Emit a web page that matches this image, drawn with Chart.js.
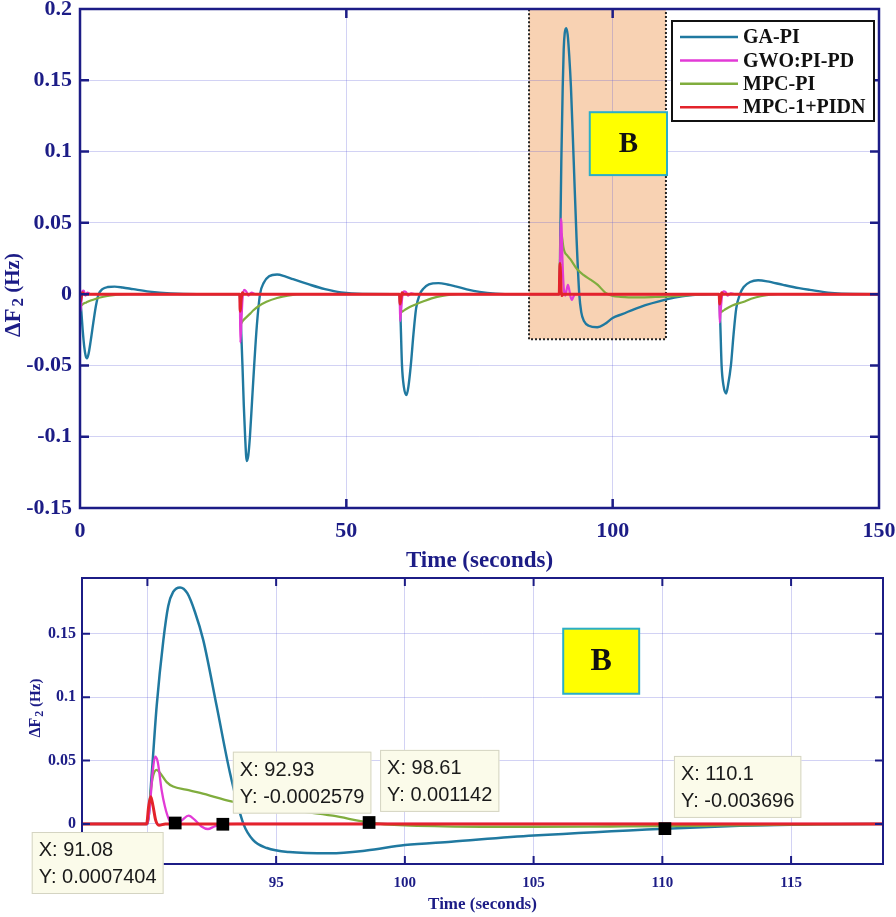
<!DOCTYPE html>
<html><head><meta charset="utf-8">
<script src="https://cdn.jsdelivr.net/npm/chart.js@4.4.0/dist/chart.umd.min.js"></script>
<style>
html,body{margin:0;padding:0;background:#fff;}
#wrap{position:relative;width:896px;height:917px;overflow:hidden;background:#fff;}
#c1{position:absolute;left:0;top:0;width:896px;height:576px;}
#c2{position:absolute;left:0;top:566px;width:896px;height:351px;}
</style></head><body>
<div id="wrap">
<canvas id="c1" width="896" height="576"></canvas>
<canvas id="c2" width="896" height="351"></canvas>
</div>
<script>
// ---------------- DATA ----------------
const seriesNames = ['GA-PI', 'GWO:PI-PD', 'MPC-PI', 'MPC-1+PIDN'];

const gaT = [0,0.25,0.5,0.8,1.05,1.3,1.6,2.0,2.5,3.0,3.5,4.2,5.2,6.5,8,10,13,17,22,
  30,30.25,30.5,30.75,31.0,31.3,31.6,31.9,32.3,32.7,33.2,33.8,34.5,35.5,37,38.5,40,43,46,49,53,
  60,60.2,60.45,60.8,61.3,61.65,62.1,62.6,63.1,63.8,64.5,65.5,67.3,69,70.5,72.6,75,78,82,
  90,90.17,90.36,90.62,90.81,91.0,91.27,91.55,91.85,92.17,92.69,93.21,93.73,94.1,94.64,95.5,97.1,98.5,100,101.8,105,110.1,113,116,119,
  120,120.2,120.45,120.8,121.3,121.65,122.2,122.7,123.2,123.9,124.6,125.8,127.3,129,132,135,137,141,145,150];
const gaV = [0,-0.012,-0.025,-0.037,-0.043,-0.045,-0.042,-0.033,-0.02,-0.008,0,0.0035,0.005,0.0053,0.0047,0.0035,0.0018,0.0005,0,
  0,-0.025,-0.05,-0.078,-0.1,-0.117,-0.113,-0.1,-0.075,-0.05,-0.022,0,0.008,0.0125,0.0138,0.0125,0.0105,0.0068,0.0035,0.0012,0.0002,
  0,-0.02,-0.05,-0.065,-0.0708,-0.065,-0.05,-0.028,-0.01,0,0.004,0.0068,0.0077,0.0068,0.0055,0.0034,0.0016,0.0004,0,
  0,0.04,0.093,0.145,0.172,0.183,0.1866,0.182,0.167,0.145,0.093,0.04,0,-0.0126,-0.019,-0.0222,-0.0232,-0.021,-0.0167,-0.014,-0.0092,-0.0037,-0.0015,-0.0003,0,
  0,-0.02,-0.05,-0.064,-0.0697,-0.064,-0.05,-0.028,-0.01,0,0.005,0.0085,0.0097,0.009,0.0065,0.0042,0.003,0.0009,0.0001,0];

const gwoT = [0,0.1,0.25,0.45,0.7,1.0,1.4,2.0,
  30,30.1,30.3,30.5,30.8,31.2,31.6,32.2,33,
  60,60.1,60.3,60.5,60.8,61.2,61.6,62.2,63,
  90,90.1,90.2,90.3,90.4,90.55,90.68,90.85,91.1,91.35,91.6,91.85,92.1,92.35,92.6,92.93,93.5,
  120,120.1,120.3,120.5,120.8,121.2,121.6,122.2,123,150];
const gwoV = [0,-0.012,-0.006,0.002,0.0025,-0.001,0.001,0,
  0,-0.034,-0.02,-0.004,0.003,0.002,-0.001,0.001,0,
  0,-0.019,-0.011,-0.002,0.002,0.0015,-0.001,0.0005,0,
  0,0.015,0.04,0.053,0.049,0.027,0.0137,0.003,-0.001,0.003,0.0065,0.003,-0.002,-0.004,-0.002,-0.0003,0,
  0,-0.02,-0.011,-0.002,0.002,0.0015,-0.001,0.0005,0,0];

const mpcT = [0,0.15,0.6,1.2,2,3,4.2,5.5,7,9,
  30,30.15,30.5,31,32,32.5,33.5,35,37,39,42,
  60,60.15,60.5,61,62,63,64.5,66,68,71,
  90,90.1,90.2,90.36,90.5,90.75,91.0,91.5,92.05,93.3,94.5,96,97.2,98.61,100,101.5,103,105,108,110.1,112.5,115,118,
  120,120.15,120.5,121,122,123,124.5,126,128,131,150];
const mpcV = [0,-0.008,-0.0068,-0.0058,-0.0045,-0.0032,-0.002,-0.001,-0.0003,0,
  0,-0.021,-0.019,-0.017,-0.0135,-0.0115,-0.0085,-0.0054,-0.0027,-0.001,0,
  0,-0.013,-0.0122,-0.011,-0.0088,-0.0072,-0.005,-0.003,-0.0012,0,
  0,0.02,0.036,0.0427,0.04,0.033,0.0295,0.027,0.0245,0.0176,0.0135,0.0098,0.0065,0.00114,-0.0012,-0.0019,-0.0022,-0.0022,-0.002,-0.0018,-0.0012,-0.0006,0,
  0,-0.013,-0.0122,-0.011,-0.0088,-0.0072,-0.0055,-0.0032,-0.0013,0,0];

const pidnT = [0,0.08,0.25,0.45,0.8,
  30,30.08,30.25,30.45,30.8,
  60,60.08,60.25,60.45,60.8,
  89.97,90.05,90.13,90.22,90.32,90.45,90.7,
  120,120.08,120.25,120.45,120.8,150];
const pidnV = [0,-0.005,-0.002,0.001,0,
  0,-0.012,-0.004,0.001,0,
  0,-0.007,-0.003,0.001,0,
  0,0.014,0.0215,0.014,0.003,-0.001,0,
  0,-0.007,-0.003,0.001,0,0];

const topXTicks = [0, 50, 100, 150];
const topYTicks = [-0.15, -0.1, -0.05, 0, 0.05, 0.1, 0.15, 0.2];
const zoomXTicks = [90, 95, 100, 105, 110, 115];
const zoomYTicks = [0, 0.05, 0.1, 0.15];

const tipX = [91.08, 92.93, 98.61, 110.1];
const tipY = [0.0007404, -0.0002579, 0.001142, -0.003696];

const zoomRegionX = [84.3, 110];
const zoomRegionY = [-0.0316, 0.2];
const boxLabel = 'B';

// ---------------- STYLE ----------------
const NAVY = '#1c1c86';
const GRID = 'rgba(95,95,215,0.28)';
const SERIF = '"Liberation Serif", "Times New Roman", serif';
const SANS = '"Liberation Sans", Arial, sans-serif';
const COLORS = ['#2079a0', '#e23ad6', '#80ad3e', '#e3232b'];
const ORDERS = [3, 1, 2, 0];
const tipOffsets = [[-143.5, 9], [10, -72.6], [11, -72.6], [9, -72.7]];

const seriesT = [gaT, gwoT, mpcT, pidnT];
const seriesV = [gaV, gwoV, mpcV, pidnV];

function makeDatasets(widths) {
  return seriesNames.map((name, k) => ({
    label: name,
    data: seriesT[k].map((t, i) => ({x: t, y: seriesV[k][i]})),
    borderColor: COLORS[k],
    backgroundColor: COLORS[k],
    borderWidth: widths[k],
    pointRadius: 0,
    fill: false,
    cubicInterpolationMode: 'monotone',
    order: ORDERS[k]
  }));
}

function noPad(s) { s.paddingTop = 0; s.paddingBottom = 0; s.paddingLeft = 0; s.paddingRight = 0; }

function xScale(min, max, ticks, fs, pad, ts, tpb, h) {
  return {
    type: 'linear', min, max,
    afterBuildTicks: s => { s.ticks = ticks.map(v => ({value: v})); },
    afterFit: s => { s.height = h; noPad(s); },
    grid: {color: GRID, lineWidth: 1, drawTicks: false},
    border: {display: false},
    ticks: {color: NAVY, font: {family: SERIF, size: fs, weight: 'bold'}, padding: pad,
      maxRotation: 0, autoSkip: false, callback: v => String(v)},
    title: {display: true, text: 'Time (seconds)', color: NAVY,
      font: {family: SERIF, size: ts, weight: 'bold', lineHeight: 1.2},
      padding: {top: 0, bottom: tpb}}
  };
}
function yScale(min, max, ticks, fs, pad, w) {
  return {
    type: 'linear', min, max,
    afterBuildTicks: s => { s.ticks = ticks.map(v => ({value: v})); },
    afterFit: s => { s.width = w; noPad(s); },
    grid: {color: GRID, lineWidth: 1, drawTicks: false},
    border: {display: false},
    ticks: {color: NAVY, font: {family: SERIF, size: fs, weight: 'bold'}, padding: pad,
      autoSkip: false, callback: v => String(v)}
  };
}

function drawYTitle(ctx, cx, cy, s) {
  ctx.save();
  ctx.translate(cx, cy);
  ctx.rotate(-Math.PI / 2);
  ctx.fillStyle = NAVY;
  ctx.textBaseline = 'middle';
  ctx.textAlign = 'left';
  const f1 = 'bold ' + s.main + 'px ' + SERIF;
  const f2 = 'bold ' + s.sub + 'px ' + SERIF;
  const f3 = 'bold ' + s.hz + 'px ' + SERIF;
  ctx.font = f1; const w1 = ctx.measureText('\u0394F').width;
  ctx.font = f2; const w2 = ctx.measureText('2').width;
  ctx.font = f3; const w3 = ctx.measureText(' (Hz)').width;
  let x = -(w1 + s.gap + w2 + w3) / 2;
  ctx.font = f1; ctx.fillText('\u0394F', x, 0); x += w1 + s.gap;
  ctx.font = f2; ctx.fillText('2', x, s.drop); x += w2;
  ctx.font = f3; ctx.fillText(' (Hz)', x, 0);
  ctx.restore();
}

function drawFrame(chart, lw, tl) {
  const {ctx, chartArea: a, scales} = chart;
  ctx.save();
  ctx.strokeStyle = NAVY;
  ctx.lineWidth = lw;
  ctx.beginPath();
  scales.x.ticks.forEach(t => {
    const px = scales.x.getPixelForValue(t.value);
    if (px <= a.left + 1 || px >= a.right - 1) return;
    ctx.moveTo(px, a.bottom); ctx.lineTo(px, a.bottom - tl);
    ctx.moveTo(px, a.top); ctx.lineTo(px, a.top + tl);
  });
  scales.y.ticks.forEach(t => {
    const py = scales.y.getPixelForValue(t.value);
    if (py <= a.top + 1 || py >= a.bottom - 1) return;
    ctx.moveTo(a.left, py); ctx.lineTo(a.left + tl, py);
    ctx.moveTo(a.right, py); ctx.lineTo(a.right - tl, py);
  });
  ctx.stroke();
  ctx.strokeRect(a.left, a.top, a.right - a.left, a.bottom - a.top);
  ctx.restore();
}

function drawBBox(chart, xr, yr, fs) {
  const {ctx, scales} = chart;
  const x1 = scales.x.getPixelForValue(xr[0]), x2 = scales.x.getPixelForValue(xr[1]);
  const y1 = scales.y.getPixelForValue(yr[1]), y2 = scales.y.getPixelForValue(yr[0]);
  ctx.save();
  ctx.fillStyle = '#ffff00';
  ctx.fillRect(x1, y1, x2 - x1, y2 - y1);
  ctx.strokeStyle = '#2aaec8';
  ctx.lineWidth = 2;
  ctx.strokeRect(x1, y1, x2 - x1, y2 - y1);
  ctx.fillStyle = '#111';
  ctx.font = 'bold ' + fs + 'px ' + SERIF;
  ctx.textAlign = 'center';
  ctx.textBaseline = 'middle';
  ctx.fillText(boxLabel, (x1 + x2) / 2, (y1 + y2) / 2 + 1);
  ctx.restore();
}

// ---------------- TOP CHART ----------------
const topDeco = {
  id: 'topDeco',
  beforeDraw(chart) {
    const {ctx, chartArea: a, scales} = chart;
    ctx.save();
    ctx.fillStyle = '#ffffff';
    ctx.fillRect(a.left, a.top, a.right - a.left, a.bottom - a.top);
    const x1 = scales.x.getPixelForValue(zoomRegionX[0]), x2 = scales.x.getPixelForValue(zoomRegionX[1]);
    const y1 = scales.y.getPixelForValue(zoomRegionY[1]), y2 = scales.y.getPixelForValue(zoomRegionY[0]);
    ctx.fillStyle = '#f8d2b3';
    ctx.fillRect(x1, y1, x2 - x1, y2 - y1);
    ctx.restore();
  },
  beforeDatasetsDraw(chart) {
    const {ctx, scales} = chart;
    const x1 = scales.x.getPixelForValue(zoomRegionX[0]), x2 = scales.x.getPixelForValue(zoomRegionX[1]);
    const y1 = scales.y.getPixelForValue(zoomRegionY[1]), y2 = scales.y.getPixelForValue(zoomRegionY[0]);
    ctx.save();
    ctx.strokeStyle = '#222';
    ctx.lineWidth = 2;
    ctx.setLineDash([2, 2]);
    ctx.strokeRect(x1, y1, x2 - x1, y2 - y1);
    ctx.restore();
  },
  afterDraw(chart) {
    const {ctx, chartArea: a} = chart;
    drawFrame(chart, 2.5, 9);
    // legend
    const L = a.right - 5 - 202, T = a.top + 12;
    ctx.save();
    ctx.fillStyle = '#fff';
    ctx.fillRect(L, T, 202, 100);
    ctx.strokeStyle = '#111';
    ctx.lineWidth = 2;
    ctx.strokeRect(L, T, 202, 100);
    ctx.font = 'bold 20px ' + SERIF;
    ctx.textBaseline = 'middle';
    ctx.textAlign = 'left';
    seriesNames.forEach((n, k) => {
      const y = T + 16 + k * 23.4;
      ctx.strokeStyle = COLORS[k];
      ctx.lineWidth = 2.5;
      ctx.beginPath(); ctx.moveTo(L + 8, y); ctx.lineTo(L + 66, y); ctx.stroke();
      ctx.fillStyle = '#111';
      ctx.fillText(n, L + 71, y + 1);
    });
    ctx.restore();
    drawBBox(chart, [95.7, 110.2], [0.0835, 0.1276], 29);
    drawYTitle(ctx, 14, 295, {main: 23, sub: 17, hz: 21, gap: 2, drop: 5});
  }
};

new Chart(document.getElementById('c1'), {
  type: 'line',
  data: {datasets: makeDatasets([2.4, 2.2, 2.2, 3])},
  options: {
    responsive: false, animation: false, devicePixelRatio: 1,
    layout: {padding: {top: 9, right: 17, left: 0, bottom: 0}},
    plugins: {legend: {display: false}, tooltip: {enabled: false}},
    scales: {
      x: xScale(0, 150, topXTicks, 22, 10, 23, 1, 68),
      y: yScale(-0.15, 0.2, topYTicks, 22, 8, 80)
    }
  },
  plugins: [topDeco]
});

// ---------------- BOTTOM (ZOOM) CHART ----------------
const botDeco = {
  id: 'botDeco',
  beforeDraw(chart) {
    const {ctx, chartArea: a} = chart;
    ctx.save();
    ctx.fillStyle = '#ffffff';
    ctx.fillRect(a.left, a.top, a.right - a.left, a.bottom - a.top);
    ctx.restore();
  },
  afterDraw(chart) {
    const {ctx, scales} = chart;
    drawFrame(chart, 2, 8);
    drawBBox(chart, [106.15, 109.1], [0.1027, 0.154], 32);
    drawYTitle(ctx, 36, 142, {main: 16, sub: 12, hz: 15, gap: 1, drop: 4});
    // data tips
    ctx.save();
    ctx.font = '20px ' + SANS;
    ctx.textBaseline = 'middle';
    ctx.textAlign = 'left';
    tipX.forEach((xv, i) => {
      const px = scales.x.getPixelForValue(xv), py = scales.y.getPixelForValue(tipY[i]);
      const l1 = 'X: ' + xv, l2 = 'Y: ' + tipY[i];
      const w = Math.max(ctx.measureText(l1).width, ctx.measureText(l2).width) + 14;
      const bx = px + tipOffsets[i][0], by = py + tipOffsets[i][1];
      ctx.fillStyle = '#fbfbea';
      ctx.fillRect(bx, by, w, 62);
      ctx.strokeStyle = '#d4d4c2';
      ctx.lineWidth = 1;
      ctx.strokeRect(bx + 0.5, by + 0.5, w - 1, 61);
      ctx.fillStyle = '#1a1a1a';
      ctx.fillText(l1, bx + 7, by + 18.5);
      ctx.fillText(l2, bx + 7, by + 45.5);
    });
    ctx.restore();
  }
};

const zoomSets = makeDatasets([2.5, 2.3, 2.3, 3]);
zoomSets.push({
  label: 'tips',
  data: tipX.map((x, i) => ({x: x, y: tipY[i]})),
  showLine: false,
  pointStyle: 'rect',
  pointRadius: 9,
  pointBackgroundColor: '#000',
  pointBorderWidth: 0,
  borderWidth: 0,
  order: -1
});

new Chart(document.getElementById('c2'), {
  type: 'line',
  data: {datasets: zoomSets},
  options: {
    responsive: false, animation: false, devicePixelRatio: 1,
    layout: {padding: {top: 12, right: 13, left: 0, bottom: 0}},
    plugins: {legend: {display: false}, tooltip: {enabled: false}},
    scales: {
      x: xScale(87.46, 118.57, zoomXTicks, 15, 10, 17, 2, 53),
      y: yScale(-0.0316, 0.194, zoomYTicks, 16, 6, 82)
    }
  },
  plugins: [botDeco]
});
</script>
</body></html>
